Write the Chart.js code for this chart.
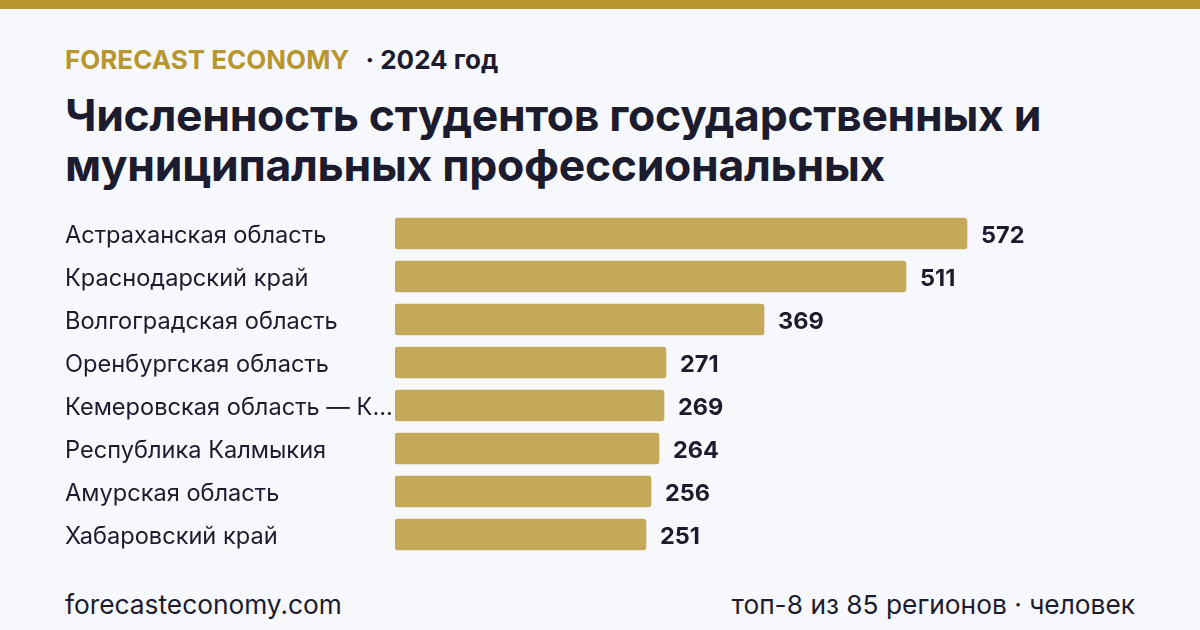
<!DOCTYPE html>
<html lang="ru">
<head>
<meta charset="utf-8">
<script src="https://cdn.jsdelivr.net/npm/chart.js@4/dist/chart.umd.min.js"></script>
<style>
    html, body { margin: 0; padding: 0; }
    body {
        width: 1200px; height: 630px; overflow: hidden; position: relative;
        background: #f7f8fc; font-family: Inter, "Noto Sans", sans-serif; color: #1c1c2e;
    }
    .topbar { position: absolute; left: 0; top: 0; width: 1200px; height: 9px; background: #b8962e; }
    .kicker { position: absolute; left: 65px; top: 44px; font-size: 26px; font-weight: 700; white-space: nowrap; }
    .kicker .brand { color: #b8962e; }
    .kicker .year { color: #1c1c2e; margin-left: 16px; }
    h1 {
        position: absolute; left: 65px; top: 90px; margin: 0; width: 1120px;
        font-size: 44.5px; line-height: 50px; font-weight: 700; color: #1c1c2e; letter-spacing: -0.3px;
    }
    .chart-box { position: absolute; left: 65px; top: 212px; width: 1070px; height: 344px; }
    .footer { position: absolute; top: 589px; font-size: 26.3px; color: #1c1c2e; white-space: nowrap; }
    .footer.left { left: 65px; }
    .footer.right { right: 65px; }
</style>
</head>
<body>
<div class="topbar"></div>
<div class="kicker"><span class="brand">FORECAST ECONOMY</span><span class="year">· 2024 год</span></div>
<h1>Численность студентов государственных и<br>муниципальных профессиональных</h1>
<div class="chart-box"><canvas id="chart-students"></canvas></div>
<div class="footer left">forecasteconomy.com</div>
<div class="footer right">топ-8 из 85 регионов · человек</div>

<script>
    'use strict';

    var regions = [
        'Астраханская область',
        'Краснодарский край',
        'Волгоградская область',
        'Оренбургская область',
        'Кемеровская область — Кузбасс',
        'Республика Калмыкия',
        'Амурская область',
        'Хабаровский край'
    ];
    var students = [572, 511, 369, 271, 269, 264, 256, 251];
    var axisMax = 740;

    // Подписи значений справа от столбцов
    var valueLabels = {
        id: 'valueLabels',
        afterDatasetsDraw: function(chart) {
            var ctx = chart.ctx;
            var meta = chart.getDatasetMeta(0);
            ctx.save();
            ctx.font = '700 23.5px Inter, "Noto Sans", sans-serif';
            ctx.fillStyle = '#1c1c2e';
            ctx.textAlign = 'left';
            ctx.textBaseline = 'middle';
            meta.data.forEach(function(bar, i) {
                ctx.fillText(String(students[i]), bar.x + 14, bar.y + 2);
            });
            ctx.restore();
        }
    };

    var ctx = document.getElementById('chart-students');
    new Chart(ctx, {
        type: 'bar',
        data: {
            labels: regions,
            datasets: [{
                data: students,
                backgroundColor: '#c4a95b',
                borderRadius: 3,
                borderSkipped: false,
                barThickness: 31,
            }],
        },
        options: {
            indexAxis: 'y',
            responsive: true,
            maintainAspectRatio: false,
            animation: false,
            layout: { padding: 0 },
            plugins: {
                legend: { display: false },
                tooltip: { enabled: false },
            },
            scales: {
                x: {
                    display: false,
                    min: 0,
                    max: axisMax,
                },
                y: {
                    afterFit: function(scale) {
                        scale.width = 330;
                        scale.paddingTop = 0;
                        scale.paddingBottom = 0;
                    },
                    grid: { display: false },
                    border: { display: false },
                    ticks: {
                        crossAlign: 'far',
                        padding: 0,
                        labelOffset: 2,
                        color: '#1c1c2e',
                        font: { family: 'Inter', size: 23.6, weight: '400' },
                        callback: function(value) {
                            var label = this.getLabelForValue(value);
                            return label.length > 24 ? label.slice(0, 23) + '...' : label;
                        }
                    },
                },
            },
        },
        plugins: [valueLabels],
    });
</script>
</body>
</html>
